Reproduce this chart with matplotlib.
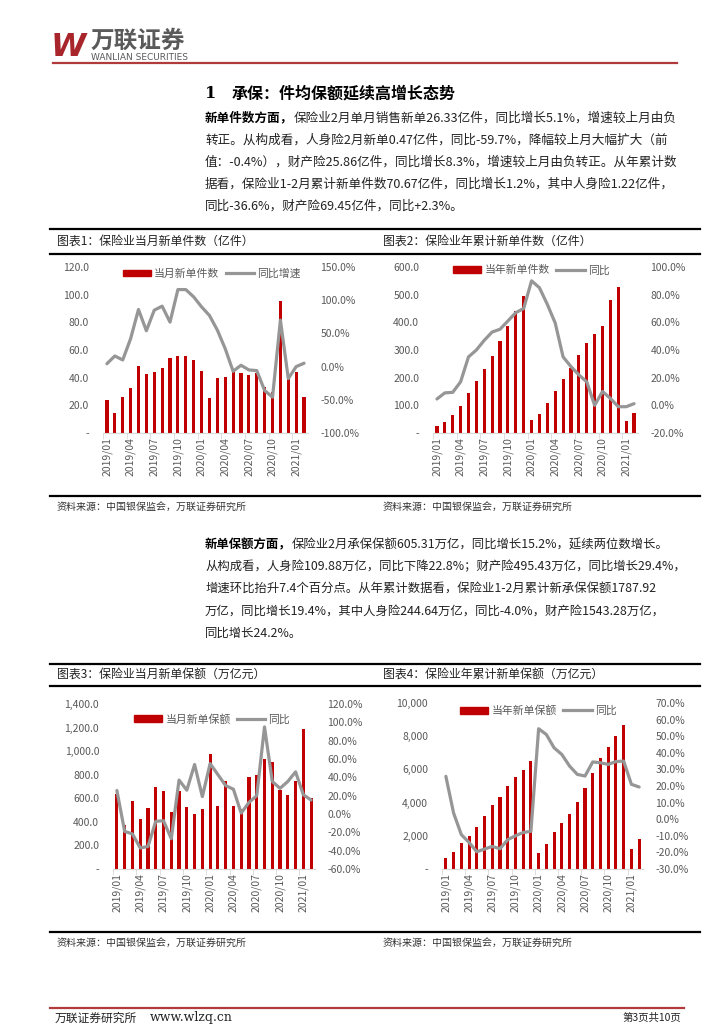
import matplotlib
matplotlib.use('Agg')
import matplotlib.pyplot as plt
from matplotlib.ticker import FuncFormatter, FixedLocator
from matplotlib.patches import Patch
from matplotlib.lines import Line2D

plt.rcParams['font.family'] = ['Noto Sans CJK SC', 'DejaVu Sans']

# --- datos (2019/01 - 2021/02) ---
meses = ['2019/01', '2019/02', '2019/03', '2019/04', '2019/05', '2019/06', '2019/07',
         '2019/08', '2019/09', '2019/10', '2019/11', '2019/12', '2020/01', '2020/02',
         '2020/03', '2020/04', '2020/05', '2020/06', '2020/07', '2020/08', '2020/09',
         '2020/10', '2020/11', '2020/12', '2021/01', '2021/02']

jian_dangyue = [23.6, 14.5, 26.0, 32.5, 48.4, 42.6, 44.0, 46.7, 54.2, 55.7, 56.0, 52.8,
                44.6, 25.3, 40.0, 40.5, 44.0, 43.6, 42.0, 43.4, 33.0, 30.0, 95.4, 43.0,
                44.0, 26.33]
jian_dangyue_yoy = [4.4, 16, 10, 42, 86, 54, 85, 91, 67, 116, 116, 105,
                    90, 77, 55, 27, -7, 2, -5, -6, -36, -46, 70, -18, 0, 5.1]

jian_leiji = [25, 38.5, 64, 96, 143, 187, 230, 277, 331, 386, 442, 494,
              46, 70, 110, 151, 196, 235, 281, 324, 357, 386, 482, 526, 44.5, 70.67]
jian_leiji_yoy = [4.6, 9, 9.4, 17, 35, 40, 47, 53, 55, 61, 67, 70,
                  90, 85, 73, 59.5, 35, 28, 22, 17, 0, 10, 5, -1, -1, 1.2]

baoe_dangyue = [640, 370, 573, 424, 514, 698, 661, 483, 661, 528, 463, 511,
                975, 531, 743, 537, 511, 782, 800, 932, 910, 672, 624, 746, 1189, 605.31]
baoe_dangyue_yoy = [25.6, -19, -21.7, -37, -35.5, -8, -7.3, -27, 37, 26, 54, 19,
                    55, 43, 31, 27, 1, 12.6, 20, 95, 35.5, 28, 35.5, 46, 21, 15.2]

baoe_leiji = [643, 1004, 1566, 1990, 2510, 3213, 3855, 4357, 4980, 5522, 5984, 6486,
              964, 1526, 2249, 2771, 3313, 4056, 4900, 5763, 6687, 7349, 7992, 8695,
              1205, 1787.92]
baoe_leiji_yoy = [25.8, 3.7, -9.3, -14, -19.6, -18, -16.4, -17.8, -12.3, -10, -8, -7.3,
                  54.5, 51, 43, 39, 32, 27, 26, 34.5, 34, 33, 34.7, 35, 21, 19.4]

W, H = 724, 1024
ROJO = '#C00000'
GRIS = '#969696'
TXT = '#595959'

fig = plt.figure(figsize=(W / 100, H / 100), dpi=100)


def ejes(l, t, r, b):
    return fig.add_axes([l / W, 1 - b / H, (r - l) / W, (b - t) / H])


def px(x, y):
    return x / W, 1 - y / H


def fmt_izq(dec):
    def f(v, pos):
        if abs(v) < 1e-9:
            return '-'
        return f'{v:,.{dec}f}'
    return FuncFormatter(f)


def grafico(caja, barras, linea, izq, der, nombres, leg_pos, dec=1, pad_izq=10, pad_der=9):
    ax = ejes(*caja)
    x = list(range(len(meses)))
    ax.bar(x, barras, width=0.4, color=ROJO, zorder=2)
    ax.set_xlim(-0.5, len(meses) - 0.5)
    ax.set_ylim(izq[0], izq[1])
    ax.set_yticks([izq[0] + i * izq[2] for i in range(int(round((izq[1] - izq[0]) / izq[2])) + 1)])
    ax.yaxis.set_major_formatter(fmt_izq(dec))
    for s in ['top', 'right', 'left']:
        ax.spines[s].set_visible(False)
    ax.spines['bottom'].set_color('#D9D9D9')
    ax.tick_params(axis='y', length=0, labelsize=7.5, labelcolor=TXT, pad=pad_izq)
    idx = list(range(0, len(meses), 3))
    ax.set_xticks(idx)
    ax.set_xticklabels([meses[i] for i in idx], rotation=90)
    ax.tick_params(axis='x', length=0, labelsize=7.5, labelcolor=TXT, pad=3)
    ax.xaxis.set_minor_locator(FixedLocator([i - 0.5 for i in idx]))
    ax.tick_params(axis='x', which='minor', length=4, color='#D9D9D9', direction='out')

    ax2 = ax.twinx()
    ax2.plot(x, linea, color=GRIS, lw=2.3, solid_joinstyle='round', solid_capstyle='round', zorder=3)
    ax2.set_ylim(der[0], der[1])
    ax2.set_yticks([der[0] + i * der[2] for i in range(int(round((der[1] - der[0]) / der[2])) + 1)])
    ax2.yaxis.set_major_formatter(FuncFormatter(lambda v, p: f'{v:.1f}%'))
    for s in ax2.spines.values():
        s.set_visible(False)
    ax2.tick_params(axis='y', length=0, labelsize=7.5, labelcolor=TXT, pad=pad_der)

    handles = [Patch(color=ROJO), Line2D([], [], color=GRIS, lw=2.3)]
    ax2.legend(handles, nombres, loc='upper center', bbox_to_anchor=leg_pos, ncol=2,
               frameon=False, fontsize=7.8, handlelength=2.6, handleheight=0.6,
               columnspacing=0.6, handletextpad=0.3, labelcolor=TXT)
    return ax


grafico((103, 267, 308, 433), jian_dangyue, jian_dangyue_yoy, (0, 120, 20), (-100, 150, 50),
        ['当月新单件数', '同比增速'], (0.53, 1.05))
grafico((433, 267, 638, 433), jian_leiji, jian_leiji_yoy, (0, 600, 100), (-20, 100, 20),
        ['当年新单件数', '同比'], (0.48, 1.07))
grafico((113, 704, 315, 869), baoe_dangyue, baoe_dangyue_yoy, (0, 1400, 200), (-60, 120, 20),
        ['当月新单保额', '同比'], (0.49, 1.0))
grafico((442, 703, 643, 869), baoe_leiji, baoe_leiji_yoy, (0, 10000, 2000), (-30, 70, 10),
        ['当年新单保额', '同比'], (0.48, 1.045), dec=0)

# --- cabecera ---
fig.text(*px(51, 48), 'W', fontsize=23, fontweight='bold', style='italic', color='#A8262B',
         family='DejaVu Sans', va='center', ha='left')
fig.text(*px(91, 41), '万联证券', fontsize=17, fontweight='bold', color='#5A5A5A', va='center', ha='left')
fig.text(*px(91, 58), 'WANLIAN SECURITIES', fontsize=6.5, color='#5A5A5A', family='DejaVu Sans',
         va='center', ha='left')
fig.add_artist(Line2D([53 / W, 677 / W], [1 - 63 / H, 1 - 63 / H], color='#B23A3A', lw=1.6))

fig.text(*px(205, 94), '1', fontsize=11.5, fontweight='bold', va='center', ha='left', family='DejaVu Serif')
fig.text(*px(232, 94), '承保：件均保额延续高增长态势', fontsize=11.5, fontweight='bold', va='center', ha='left')

renderer = fig.canvas.get_renderer()


def parrafo(y0, negrita, lineas, paso=22, size=9.05):
    t = fig.text(*px(205, y0), negrita, fontsize=size, fontweight='bold', va='center', ha='left')
    ancho = t.get_window_extent(renderer).width
    for i, ln in enumerate(lineas):
        xx = 205 + (ancho if i == 0 else 0)
        fig.text(*px(xx, y0 + i * paso), ln, fontsize=size, va='center', ha='left', color='#222222')


parrafo(118, '新单件数方面，', [
    '保险业2月单月销售新单26.33亿件，同比增长5.1%，增速较上月由负',
    '转正。从构成看，人身险2月新单0.47亿件，同比-59.7%，降幅较上月大幅扩大（前',
    '值：-0.4%），财产险25.86亿件，同比增长8.3%，增速较上月由负转正。从年累计数',
    '据看，保险业1-2月累计新单件数70.67亿件，同比增长1.2%，其中人身险1.22亿件，',
    '同比-36.6%，财产险69.45亿件，同比+2.3%。'])

parrafo(545, '新单保额方面，', [
    '保险业2月承保保额605.31万亿，同比增长15.2%，延续两位数增长。',
    '从构成看，人身险109.88万亿，同比下降22.8%；财产险495.43万亿，同比增长29.4%，',
    '增速环比抬升7.4个百分点。从年累计数据看，保险业1-2月累计新承保保额1787.92',
    '万亿，同比增长19.4%，其中人身险244.64万亿，同比-4.0%，财产险1543.28万亿，',
    '同比增长24.2%。'], size=8.9)

# --- cajas de titulos ---
def regla(y, x0=50, x1=700, lw=1.6):
    fig.add_artist(Line2D([x0 / W, x1 / W], [1 - y / H, 1 - y / H], color='black', lw=lw))


for (ya, yt, yb, yr, ys, t1, t2) in [
        (229, 241, 254, 496, 507, '图表1：保险业当月新单件数（亿件）', '图表2：保险业年累计新单件数（亿件）'),
        (664, 675, 686, 932, 943, '图表3：保险业当月新单保额（万亿元）', '图表4：保险业年累计新单保额（万亿元）')]:
    regla(ya)
    regla(yb)
    regla(yr)
    fig.text(*px(57, yt), t1, fontsize=8.6, va='center', ha='left', color='#222222')
    fig.text(*px(383, yt), t2, fontsize=8.6, va='center', ha='left', color='#222222')
    fig.text(*px(57, ys), '资料来源：中国银保监会，万联证券研究所', fontsize=7.2, va='center', ha='left', color='#333333')
    fig.text(*px(383, ys), '资料来源：中国银保监会，万联证券研究所', fontsize=7.2, va='center', ha='left', color='#333333')

# --- pie de pagina ---
fig.add_artist(Line2D([50 / W, 684 / W], [1 - 1008 / H, 1 - 1008 / H], color='#B23A3A', lw=1.6))
fig.text(*px(55, 1018), '万联证券研究所', fontsize=8.5, va='center', ha='left', color='#222222')
fig.text(*px(150, 1018), 'www.wlzq.cn', fontsize=9, va='center', ha='left', color='#222222', family='DejaVu Serif')
fig.text(*px(681, 1018), '第3页共10页', fontsize=7.5, va='center', ha='right', color='#222222')

fig.savefig('out.png', dpi=100)
